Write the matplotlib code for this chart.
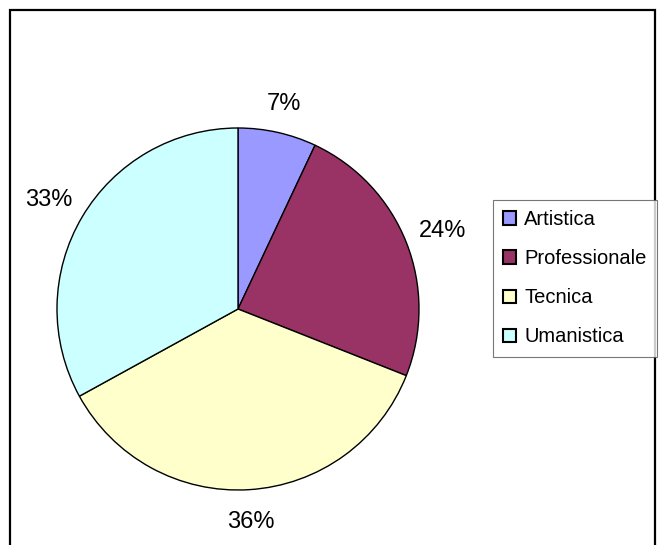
import matplotlib
matplotlib.use('Agg')
import numpy as np
import matplotlib.pyplot as plt
from matplotlib.patches import Rectangle

categorie = ['Artistica', 'Professionale', 'Tecnica', 'Umanistica']
percentuali = [7, 24, 36, 33]
colori = ['#9999FF', '#993366', '#FFFFCC', '#CCFFFF']

plt.rcParams['font.family'] = ['Liberation Sans', 'DejaVu Sans']

fig = plt.figure(figsize=(6.59, 5.45), dpi=100)
W, H = 659, 545

# cornice esterna del grafico
fig.patches.append(Rectangle((10 / W, -0.05), (655 - 10) / W, 1.05 - 10 / H,
                             transform=fig.transFigure, fill=False,
                             edgecolor='black', linewidth=1.6))

cx, cy, r = 238, 309, 181
ax = fig.add_axes([(cx - r) / W, (H - cy - r) / H, 2 * r / W, 2 * r / H])
wedges, testi, pct = ax.pie(percentuali, colors=colori, startangle=90,
                            counterclock=False, autopct='%1.0f%%',
                            pctdistance=1.18,
                            wedgeprops=dict(edgecolor='black', linewidth=1.0),
                            textprops=dict(fontsize=17))
# etichette un po' piu' lontane ai lati (testo piu' largo che alto)
for w, t in zip(wedges, pct):
    ang = np.deg2rad((w.theta1 + w.theta2) / 2)
    d = 1.16 + 0.06 * abs(np.cos(ang))
    t.set_position((d * np.cos(ang), d * np.sin(ang) - 0.015))
ax.set_xlim(-1, 1)
ax.set_ylim(-1, 1)
ax.set_aspect('auto')
ax.axis('off')

leg = fig.legend(wedges, categorie, loc='upper left',
                 bbox_to_anchor=(493 / W, 1 - 200 / H),
                 fontsize=14.5, frameon=True, fancybox=False,
                 handlelength=0.65, handleheight=0.65, handletextpad=0.4,
                 labelspacing=1.0, borderpad=0.5, borderaxespad=0)
leg.get_frame().set_edgecolor('#555555')
leg.get_frame().set_linewidth(0.8)
for h in leg.legend_handles:
    h.set_linewidth(1.5)

fig.savefig('out.png', dpi=100)
plt.close()
